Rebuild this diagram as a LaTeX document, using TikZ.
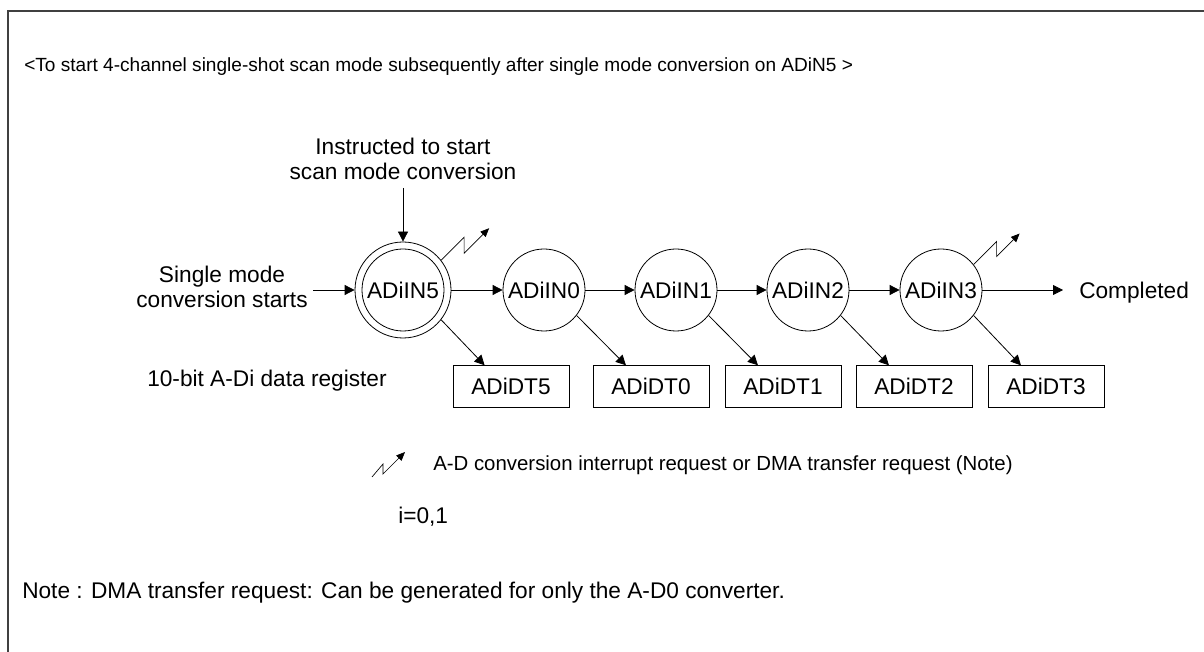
\documentclass[tikz,border=0pt]{standalone}
\usepackage{fontspec}
\setmainfont{Liberation Sans}
\usetikzlibrary{arrows.meta}
\begin{document}
\begin{tikzpicture}[x=0.75pt,y=-0.75pt,
  txt/.style={font=\fontsize{17}{19}\selectfont, inner sep=0},
  ttl/.style={font=\fontsize{14.3}{16}\selectfont, inner sep=0},
  legtxt/.style={font=\fontsize{15.3}{17}\selectfont, inner sep=0},
  circ/.style={circle, draw, line width=0.6pt, minimum size=61.5pt, inner sep=0, font=\fontsize{17}{19}\selectfont},
  outer/.style={circle, draw, line width=0.6pt, minimum size=72pt, inner sep=0},
  reg/.style={rectangle, draw, line width=0.6pt, minimum width=87pt, minimum height=31.2pt, inner sep=0, font=\fontsize{17}{19}\selectfont},
  arr/.style={line width=0.6pt, -{Triangle[length=7.5pt,width=7.5pt]}},
  bolt/.style={line width=0.5pt, -{Triangle[length=6.5pt,width=5.5pt]}},
]
\useasboundingbox (0,0) rectangle (1204,652);
\fill[white] (0,0) rectangle (1204,652);
% frame
\draw[line width=1pt, black!75] (8,652) -- (8,11) -- (1204,11);

% title
\node[ttl, anchor=base west] (title) at (24,72) {<To start 4-channel single-shot scan mode subsequently after single mode conversion on ADiN5 >};

% circles
\node[circ] (c5) at (403,290) {ADiIN5};
\node[outer] (c5o) at (403,290) {};
\node[circ] (c0) at (544,290) {ADiIN0};
\node[circ] (c1) at (676,290) {ADiIN1};
\node[circ] (c2) at (808,290) {ADiIN2};
\node[circ] (c3) at (941,290) {ADiIN3};

% registers
\node[reg] (r5) at (511,386.5) {ADiDT5};
\node[reg] (r0) at (651,386.5) {ADiDT0};
\node[reg] (r1) at (783,386.5) {ADiDT1};
\node[reg] (r2) at (914,386.5) {ADiDT2};
\node[reg] (r3) at (1046,386.5) {ADiDT3};

% texts
\node[txt, anchor=base] (ins1) at (403,155) {Instructed to start};
\node[txt, anchor=base] (ins2) at (403,180) {scan mode conversion};
\node[txt, anchor=base] (sm1) at (222,283) {Single mode};
\node[txt, anchor=base] (sm2) at (222,308) {conversion starts};
\node[txt, anchor=base west] (done) at (1079,299) {Completed};
\node[txt, anchor=base west] (dreg) at (147,387) {10-bit A-Di data register};
\node[legtxt, anchor=base west] (leg) at (433,470) {A-D conversion interrupt request or DMA transfer request (Note)};
\node[txt, anchor=base west] (ival) at (398,523) {i=0,1};
\node[txt, anchor=base west] (note) at (22,598) {Note : DMA transfer request: Can be generated for only the A-D0 converter.};

% connectors
\coordinate (insend) at (403,188);
\draw[arr] (insend) -- (c5o.north);
\coordinate (smend) at (313,290);
\draw[arr] (smend) -- (c5o.west);
\draw[arr] (c5o.east) -- (c0.west);
\draw[arr] (c0.east) -- (c1.west);
\draw[arr] (c1.east) -- (c2.west);
\draw[arr] (c2.east) -- (c3.west);
\draw[arr, shorten >=12pt] (c3.east) -- (c3.east -| done.west);

\draw[arr] (c5o.-38) -- ([xshift=24pt]r5.north west);
\draw[arr] (c0.-38) -- ([xshift=25pt]r0.north west);
\draw[arr] (c1.-38) -- ([xshift=25pt]r1.north west);
\draw[arr] (c2.-38) -- ([xshift=25pt]r2.north west);
\draw[arr] (c3.-38) -- ([xshift=25pt]r3.north west);

% bolts
\draw[bolt] (c5o.38) -- ++(23,-23) -- ++(0,16) -- ++(25,-25);
\draw[bolt] (c3.38) -- ++(23,-23) -- ++(0,15) -- ++(23,-23);
\coordinate (lb) at (372,477);
\draw[bolt] (lb) -- ++(11,-13) -- ++(0,10) -- ++(22,-22);
\end{tikzpicture}
\end{document}
